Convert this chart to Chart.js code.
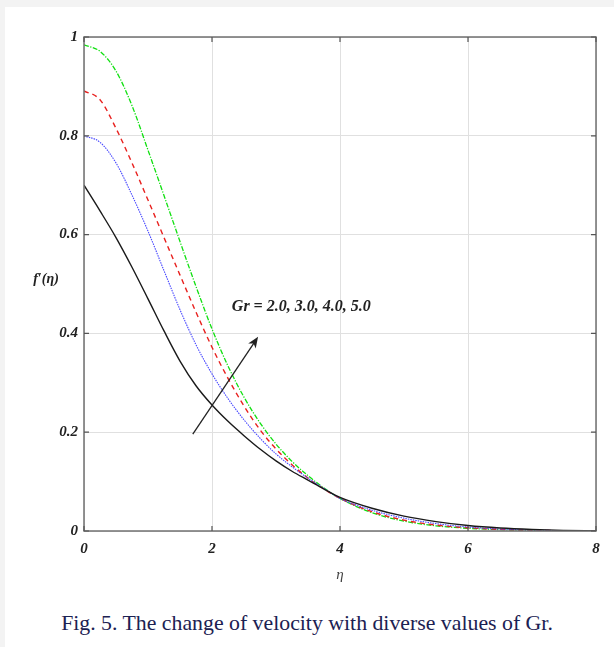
<!DOCTYPE html>
<html>
<head>
<meta charset="utf-8">
<script src="https://cdn.jsdelivr.net/npm/chart.js@4.4.1/dist/chart.umd.min.js"></script>
<style>
  body { margin: 0; background: #fff; width: 614px; height: 647px; overflow: hidden; position: relative; }
  .stripTop { position: absolute; left: 0; top: 0; width: 614px; height: 7px; background: #f3f3f3; }
  .stripLeft { position: absolute; left: 0; top: 0; width: 5px; height: 647px; background: #f3f3f3; }
  #myChart { position: absolute; left: 0; top: 0; }
  .caption { position: absolute; left: 0; top: 611px; width: 614px; text-align: center;
    font-family: "Liberation Serif", "Times New Roman", serif; font-size: 21.8px; color: #1c2152; }
</style>
</head>
<body>
<div class="stripTop"></div>
<div class="stripLeft"></div>
<canvas id="myChart" width="614" height="590"></canvas>
<div class="caption">Fig. 5. The change of velocity with diverse values of Gr.</div>
<script>
// data
const eta = [0, 0.25, 0.5, 0.75, 1, 1.25, 1.5, 1.75, 2, 2.25, 2.5, 2.75, 3, 3.25, 3.5, 3.75, 4,
  4.5, 5, 5.5, 6, 6.5, 7, 7.5, 8];
const gr2 = [0.70, 0.648, 0.594, 0.534, 0.470, 0.405, 0.344, 0.294, 0.255, 0.222, 0.193, 0.166, 0.142, 0.121, 0.103, 0.085, 0.068,
  0.046, 0.030, 0.019, 0.011, 0.006, 0.003, 0.0012, 0];
const gr3 = [0.80, 0.787, 0.745, 0.68, 0.607, 0.527, 0.448, 0.377, 0.318, 0.268, 0.225, 0.188, 0.156, 0.130, 0.107, 0.086, 0.066,
  0.042, 0.026, 0.015, 0.008, 0.004, 0.002, 0.0007, 0];
const gr4 = [0.891, 0.873, 0.815, 0.745, 0.670, 0.594, 0.518, 0.443, 0.372, 0.309, 0.253, 0.205, 0.166, 0.134, 0.107, 0.085, 0.066,
  0.039, 0.022, 0.012, 0.0065, 0.0033, 0.0015, 0.0006, 0];
const gr5 = [0.984, 0.971, 0.931, 0.861, 0.771, 0.679, 0.586, 0.495, 0.409, 0.334, 0.271, 0.219, 0.176, 0.141, 0.112, 0.087, 0.066,
  0.037, 0.020, 0.0105, 0.0055, 0.0028, 0.0013, 0.0005, 0];
const xTicks = [0, 2, 4, 6, 8];
const yTicks = [0, 0.2, 0.4, 0.6, 0.8, 1];
const grLabel = "Gr = 2.0, 3.0, 4.0, 5.0";
const arrowFrom = [1.70, 0.196];
const arrowTo = [2.72, 0.393];
const labelAt = [2.31, 0.453];

const ctx = document.getElementById("myChart");
const serif = "'Liberation Serif', 'Times New Roman', serif";

const toPoints = (ys) => eta.map((x, i) => ({ x: x, y: ys[i] }));

const line = (label, ys, color, dash, width) => ({
  label: label,
  data: toPoints(ys),
  borderColor: color,
  borderWidth: width,
  borderDash: dash,
  pointRadius: 0,
  fill: false,
  cubicInterpolationMode: "monotone",
});

// frame, inner ticks, arrow and texts
const extras = {
  id: "extras",
  afterDatasetsDraw(chart) {
    const c = chart.ctx;
    const a = chart.chartArea;
    const sx = chart.scales.x;
    const sy = chart.scales.y;
    c.save();
    c.strokeStyle = "#707070";
    c.lineWidth = 1.5;
    c.strokeRect(a.left, a.top, a.right - a.left, a.bottom - a.top);
    c.lineWidth = 1.2;
    c.strokeStyle = "#555";
    c.beginPath();
    xTicks.forEach((v) => {
      const px = sx.getPixelForValue(v);
      c.moveTo(px, a.bottom); c.lineTo(px, a.bottom - 5);
      c.moveTo(px, a.top); c.lineTo(px, a.top + 5);
    });
    yTicks.forEach((v) => {
      const py = sy.getPixelForValue(v);
      c.moveTo(a.left, py); c.lineTo(a.left + 5, py);
      c.moveTo(a.right, py); c.lineTo(a.right - 5, py);
    });
    c.stroke();

    // arrow
    const x1 = sx.getPixelForValue(arrowFrom[0]), y1 = sy.getPixelForValue(arrowFrom[1]);
    const x2 = sx.getPixelForValue(arrowTo[0]), y2 = sy.getPixelForValue(arrowTo[1]);
    const ang = Math.atan2(y2 - y1, x2 - x1);
    c.strokeStyle = "#222";
    c.fillStyle = "#222";
    c.lineWidth = 1.3;
    c.beginPath();
    c.moveTo(x1, y1);
    c.lineTo(x2 - 6 * Math.cos(ang), y2 - 6 * Math.sin(ang));
    c.stroke();
    c.beginPath();
    c.moveTo(x2, y2);
    c.lineTo(x2 - 11 * Math.cos(ang) + 4.5 * Math.sin(ang), y2 - 11 * Math.sin(ang) - 4.5 * Math.cos(ang));
    c.lineTo(x2 - 8 * Math.cos(ang), y2 - 8 * Math.sin(ang));
    c.lineTo(x2 - 11 * Math.cos(ang) - 4.5 * Math.sin(ang), y2 - 11 * Math.sin(ang) + 4.5 * Math.cos(ang));
    c.closePath();
    c.fill();

    // annotation text
    c.fillStyle = "#222";
    c.font = "italic bold 16px " + serif;
    c.textAlign = "left";
    c.textBaseline = "middle";
    c.fillText(grLabel, sx.getPixelForValue(labelAt[0]), sy.getPixelForValue(labelAt[1]));

    // axis titles
    c.font = "italic 15px " + serif;
    c.fillStyle = "#444";
    c.textAlign = "center";
    c.fillText("η", (a.left + a.right) / 2, 575);
    c.font = "italic bold 14px " + serif;
    c.fillStyle = "#222";
    c.fillText("f′(η)", 46, 279);
    c.restore();
  },
};

const tickFont = { family: serif, size: 15, style: "italic", weight: "bold" };

const myChart = new Chart(ctx, {
  type: "line",
  data: {
    datasets: [
      line("Gr = 2.0", gr2, "#1a1a1a", [], 1.4),
      line("Gr = 3.0", gr3, "#4646ff", [1.5, 1], 1.1),
      line("Gr = 4.0", gr4, "#e8201e", [5, 4], 1.4),
      line("Gr = 5.0", gr5, "#10e010", [5, 1.5, 1.2, 1.5], 1.3),
    ],
  },
  options: {
    responsive: false,
    animation: false,
    layout: { padding: { left: 0, right: 18, top: 37, bottom: 0 } },
    plugins: { legend: { display: false }, tooltip: { enabled: false } },
    scales: {
      x: {
        type: "linear",
        min: 0,
        max: 8,
        afterFit: (s) => { s.height = 59; },
        afterBuildTicks: (s) => { s.ticks = xTicks.map((v) => ({ value: v })); },
        grid: { color: "#e0e0e0", drawTicks: false },
        border: { display: false },
        ticks: { padding: 9, color: "#222", font: tickFont, callback: (v) => String(v) },
      },
      y: {
        type: "linear",
        min: 0,
        max: 1,
        afterFit: (s) => { s.width = 84; },
        afterBuildTicks: (s) => { s.ticks = yTicks.map((v) => ({ value: v })); },
        grid: { color: "#e0e0e0", drawTicks: false },
        border: { display: false },
        ticks: { padding: 6, color: "#222", font: tickFont, callback: (v) => String(v) },
      },
    },
  },
  plugins: [extras],
});
</script>
</body>
</html>
